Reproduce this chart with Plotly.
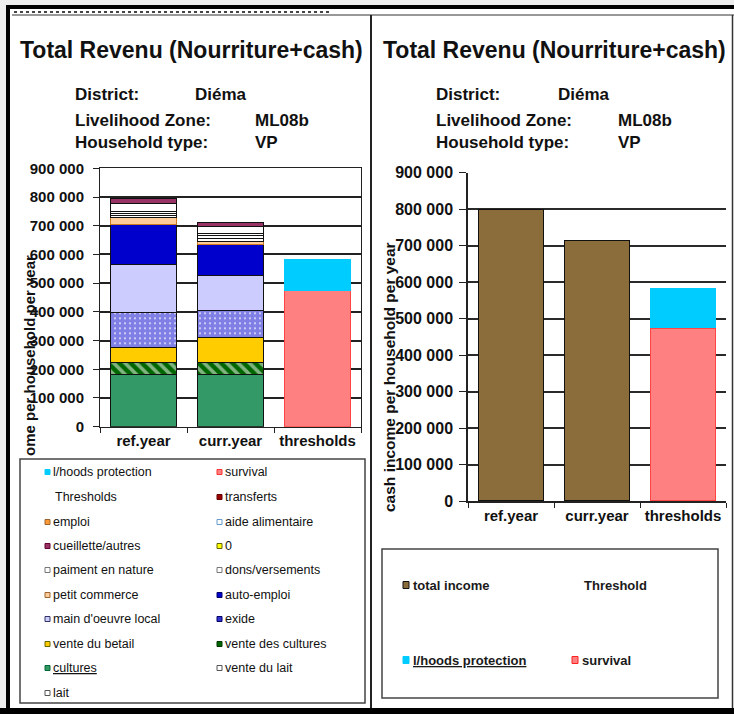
import plotly.graph_objects as go

# ---------------- data ----------------
CATEGORIES = ["ref.year", "curr.year", "thresholds"]
YEARS = ["ref.year", "curr.year"]

cultures = [183000, 183000]
vente_des_cultures = [42000, 42000]
vente_du_betail = [50000, 85000]
exide = [123000, 94000]
main_oeuvre_local = [168000, 121000]
auto_emploi = [139000, 108000]
petit_commerce = [22000, 12000]
dons_versements = [8000, 10000]
paiment_en_nature = [7000, 10000]
aide_alimentaire = [7000, 9000]
lait = [27000, 25000]
cueillette_autres = [18000, 13000]

survival = [473000]
lhoods_protection = [112000]

total_income = [800000, 715000]

Y_TICKS = [0, 100000, 200000, 300000, 400000, 500000, 600000, 700000, 800000, 900000]
Y_TICK_LABELS = ["0", "100 000", "200 000", "300 000", "400 000", "500 000",
                 "600 000", "700 000", "800 000", "900 000"]

LEFT_LEGEND = [
    ("l/hoods protection", "#00CCFF", "#00CCFF"),
    ("survival", "#FF8080", "#FF3333"),
    ("Thresholds", None, None),
    ("transferts", "#990000", "#660000"),
    ("emploi", "#FF9933", "#996633"),
    ("aide alimentaire", "#FFFFFF", "#6699CC"),
    ("cueillette/autres", "#993366", "#660033"),
    ("0", "#FFFF00", "#666600"),
    ("paiment en nature", "#FFFFFF", "#777777"),
    ("dons/versements", "#FFFFFF", "#777777"),
    ("petit commerce", "#FFCC99", "#996633"),
    ("auto-emploi", "#0000CC", "#000066"),
    ("main d'oeuvre local", "#CCCCFF", "#333366"),
    ("exide", "#3333CC", "#000066"),
    ("vente du betail", "#FFCC00", "#666600"),
    ("vente des cultures", "#006600", "#003300"),
    ("<u>cultures</u>", "#339966", "#006633"),
    ("vente du lait", "#FFFFFF", "#555555"),
    ("lait", "#FFFFFF", "#555555"),
]

W, H = 734, 714
FONT = "Liberation Sans, Arial, sans-serif"


def px(x):
    return x / W


def py(y):
    return 1 - y / H


OUT = "#111111"

fig = go.Figure()

# ---------------- left stacked chart ----------------
left_series = [
    ("cultures", cultures, dict(color="#339966")),
    ("vente des cultures", vente_des_cultures,
     dict(color="#006600", pattern=dict(shape="\\", fgcolor="#FFFFFF", bgcolor="#006600",
                                         size=8, solidity=0.45))),
    ("vente du betail", vente_du_betail, dict(color="#FFCC00")),
    ("exide", exide,
     dict(color="#FFFFFF", pattern=dict(shape="+", fgcolor="#0000CC", bgcolor="#FFFFFF",
                                         size=5, solidity=0.9))),
    ("main d'oeuvre local", main_oeuvre_local, dict(color="#CCCCFF")),
    ("auto-emploi", auto_emploi, dict(color="#0000CC")),
    ("petit commerce", petit_commerce, dict(color="#FFCC99")),
    ("dons/versements", dons_versements, dict(color="#FFFFFF")),
    ("paiment en nature", paiment_en_nature, dict(color="#FFFFFF")),
    ("aide alimentaire", aide_alimentaire, dict(color="#FFFFFF")),
    ("lait", lait, dict(color="#FFFFFF")),
    ("cueillette/autres", cueillette_autres, dict(color="#993366")),
]
for name, vals, mk in left_series:
    line_color = "#CC7722" if name == "petit commerce" else OUT
    mk = dict(mk)
    mk["line"] = dict(color=line_color, width=1)
    fig.add_trace(go.Bar(x=YEARS, y=vals, name=name, marker=mk, showlegend=False,
                         xaxis="x", yaxis="y"))

fig.add_trace(go.Bar(x=["thresholds"], y=survival, name="survival",
                     marker=dict(color="#FF8080", line=dict(color="#FF4444", width=1)),
                     showlegend=False, xaxis="x", yaxis="y"))
fig.add_trace(go.Bar(x=["thresholds"], y=lhoods_protection, name="l/hoods protection",
                     marker=dict(color="#00CCFF", line=dict(color="#00CCFF", width=0)),
                     showlegend=False, xaxis="x", yaxis="y"))

# ---------------- right chart ----------------
fig.add_trace(go.Bar(x=YEARS, y=total_income, name="total income",
                     marker=dict(color="#8B6D3B", line=dict(color=OUT, width=1)),
                     showlegend=False, xaxis="x2", yaxis="y2"))
fig.add_trace(go.Bar(x=["thresholds"], y=survival, name="survival",
                     marker=dict(color="#FF8080", line=dict(color="#FF4444", width=1)),
                     showlegend=False, xaxis="x2", yaxis="y2"))
fig.add_trace(go.Bar(x=["thresholds"], y=lhoods_protection, name="l/hoods protection",
                     marker=dict(color="#00CCFF", line=dict(color="#00CCFF", width=0)),
                     showlegend=False, xaxis="x2", yaxis="y2"))

axis_font = dict(family=FONT, size=15, color="#111111", weight="bold")

fig.update_layout(
    width=W, height=H, autosize=False,
    margin=dict(l=0, r=0, t=0, b=0, pad=0, autoexpand=False),
    paper_bgcolor="#FFFFFF", plot_bgcolor="#FFFFFF",
    barmode="stack", bargap=0.24,
    separators=". ",
    font=dict(family=FONT, color="#111111"),
    xaxis=dict(domain=[px(100), px(361)], anchor="y", type="category",
               categoryorder="array", categoryarray=CATEGORIES,
               showline=True, linecolor="#222222", linewidth=1, mirror=True,
               ticks="outside", tickson="boundaries", ticklen=5, tickcolor="#222222",
               tickfont=axis_font, showgrid=False, automargin=False),
    yaxis=dict(domain=[py(426.7), py(168.3)], anchor="x", range=[0, 900000],
               tickvals=Y_TICKS, ticktext=Y_TICK_LABELS,
               showline=True, linecolor="#222222", linewidth=1, mirror=True,
               ticks="outside", ticklen=6, tickcolor="#222222",
               showgrid=True, gridcolor="#222222", gridwidth=1.5,
               tickfont=axis_font, ticklabelstandoff=6, zeroline=False, automargin=False),
    xaxis2=dict(domain=[px(468), px(726)], anchor="y2", type="category",
                categoryorder="array", categoryarray=CATEGORIES,
                showline=True, linecolor="#222222", linewidth=1.5,
                ticks="outside", tickson="boundaries", ticklen=5, tickcolor="#222222",
                tickfont=axis_font, showgrid=False, automargin=False),
    yaxis2=dict(domain=[py(501), py(172.7)], anchor="x2", range=[0, 900000],
                tickvals=Y_TICKS, ticktext=Y_TICK_LABELS,
                showline=True, linecolor="#222222", linewidth=1.5,
                ticks="outside", ticklen=7, tickcolor="#222222",
                showgrid=True, gridcolor="#2a2a2a", gridwidth=2,
                tickfont=dict(family=FONT, size=16, color="#111111", weight="bold"),
                ticklabelstandoff=3, zeroline=False, automargin=False),
)

shapes = []
annotations = []

# frame / background
shapes.append(dict(type="rect", xref="paper", yref="paper", x0=0, x1=1, y0=py(5), y1=1,
                   fillcolor="#EDEDED", line=dict(width=0), layer="below"))
shapes.append(dict(type="rect", xref="paper", yref="paper", x0=0, x1=px(6), y0=0, y1=1,
                   fillcolor="#EDEDED", line=dict(width=0), layer="below"))
shapes.append(dict(type="line", xref="paper", yref="paper", x0=px(8), x1=px(8),
                   y0=0, y1=py(5), line=dict(color="#000000", width=4)))
shapes.append(dict(type="line", xref="paper", yref="paper", x0=px(6), x1=1,
                   y0=py(7), y1=py(7), line=dict(color="#000000", width=4)))
shapes.append(dict(type="line", xref="paper", yref="paper", x0=px(14), x1=px(330),
                   y0=py(12), y1=py(12), line=dict(color="#444444", width=2, dash="dot")))
shapes.append(dict(type="line", xref="paper", yref="paper", x0=px(12), x1=1,
                   y0=py(15), y1=py(15), line=dict(color="#333333", width=1)))
shapes.append(dict(type="line", xref="paper", yref="paper", x0=0, x1=1,
                   y0=py(711), y1=py(711), line=dict(color="#000000", width=6)))
shapes.append(dict(type="line", xref="paper", yref="paper", x0=px(371), x1=px(371),
                   y0=py(708), y1=py(15), line=dict(color="#222222", width=2)))
shapes.append(dict(type="line", xref="paper", yref="paper", x0=px(732.5), x1=px(732.5),
                   y0=py(708), y1=py(15), line=dict(color="#333333", width=1.5)))

# legend boxes
shapes.append(dict(type="rect", xref="paper", yref="paper", x0=px(20), x1=px(365),
                   y0=py(703), y1=py(459), line=dict(color="#444444", width=1.5)))
shapes.append(dict(type="rect", xref="paper", yref="paper", x0=px(382), x1=px(718),
                   y0=py(698), y1=py(549), line=dict(color="#444444", width=1.5)))

# headers
for x0, off in ((18, 0), (381, 361)):
    annotations.append(dict(xref="paper", yref="paper", x=px(x0), y=py(50),
                            xanchor="left", yanchor="middle", showarrow=False,
                            text="<b>Total Revenu (Nourriture+cash)</b>",
                            font=dict(family=FONT, size=23, color="#111111")))
    rows = [("District:", "Diéma", 193, 95), ("Livelihood Zone:", "ML08b", 253, 120),
            ("Household type:", "VP", 253, 143)]
    for lab, val, vx, yy in rows:
        annotations.append(dict(xref="paper", yref="paper", x=px(73 + off), y=py(yy),
                                xanchor="left", yanchor="middle", showarrow=False,
                                text="<b>%s</b>" % lab,
                                font=dict(family=FONT, size=17, color="#111111")))
        annotations.append(dict(xref="paper", yref="paper", x=px(vx + off + (2 if off else 0)),
                                y=py(yy), xanchor="left", yanchor="middle", showarrow=False,
                                text="<b>%s</b>" % val,
                                font=dict(family=FONT, size=17, color="#111111")))

# y axis titles
annotations.append(dict(xref="paper", yref="paper", x=px(29), y=py(356),
                        xanchor="center", yanchor="middle", showarrow=False, textangle=-90,
                        text="<b>ome per household per year</b>",
                        font=dict(family=FONT, size=15, color="#111111")))
annotations.append(dict(xref="paper", yref="paper", x=px(389), y=py(377),
                        xanchor="center", yanchor="middle", showarrow=False, textangle=-90,
                        text="<b>cash income per household per year</b>",
                        font=dict(family=FONT, size=15.5, color="#111111")))

# left legend (manual, two columns)
row_y = [472, 497, 522, 546, 570, 595, 619, 644, 668, 693]
col_x = [45, 217]
for i, (name, fill, edge) in enumerate(LEFT_LEGEND):
    r, c = divmod(i, 2)
    yy = row_y[r]
    mx = col_x[c]
    if fill is not None:
        shapes.append(dict(type="rect", xref="paper", yref="paper",
                           x0=px(mx), x1=px(mx + 5), y0=py(yy + 2.5), y1=py(yy - 2.5),
                           fillcolor=fill, line=dict(color=edge, width=1)))
        tx = mx + 6
    else:
        tx = mx + 8
    annotations.append(dict(xref="paper", yref="paper", x=px(tx), y=py(yy),
                            xanchor="left", yanchor="middle", showarrow=False,
                            text=name, font=dict(family=FONT, size=12.5, color="#111111")))

# right legend
right_items = [
    ("total income", "#8B6D3B", OUT, 403, 585),
    ("Threshold", None, None, 582, 585),
    ("<u>l/hoods protection</u>", "#00CCFF", "#00CCFF", 403, 660),
    ("survival", "#FF8080", "#FF2222", 572, 660),
]
for name, fill, edge, mx, yy in right_items:
    if fill is not None:
        shapes.append(dict(type="rect", xref="paper", yref="paper",
                           x0=px(mx), x1=px(mx + 6), y0=py(yy + 3.5), y1=py(yy - 3.5),
                           fillcolor=fill, line=dict(color=edge, width=1)))
        tx = mx + 8
    else:
        tx = mx
    annotations.append(dict(xref="paper", yref="paper", x=px(tx), y=py(yy),
                            xanchor="left", yanchor="middle", showarrow=False,
                            text="<b>%s</b>" % name,
                            font=dict(family=FONT, size=13, color="#1a1a1a")))

fig.update_layout(shapes=shapes, annotations=annotations)
fig.write_html(
    "out.html",
    config={"displayModeBar": False},
    post_script=(
        "document.documentElement.style.margin='0';"
        "document.documentElement.style.overflow='hidden';"
        "document.body.style.margin='0';document.body.style.padding='0';"
        "document.body.style.overflow='hidden';"
        "var gd=document.getElementById('{plot_id}');"
        "gd.style.position='fixed';gd.style.top='0px';gd.style.left='0px';"
    ),
)
